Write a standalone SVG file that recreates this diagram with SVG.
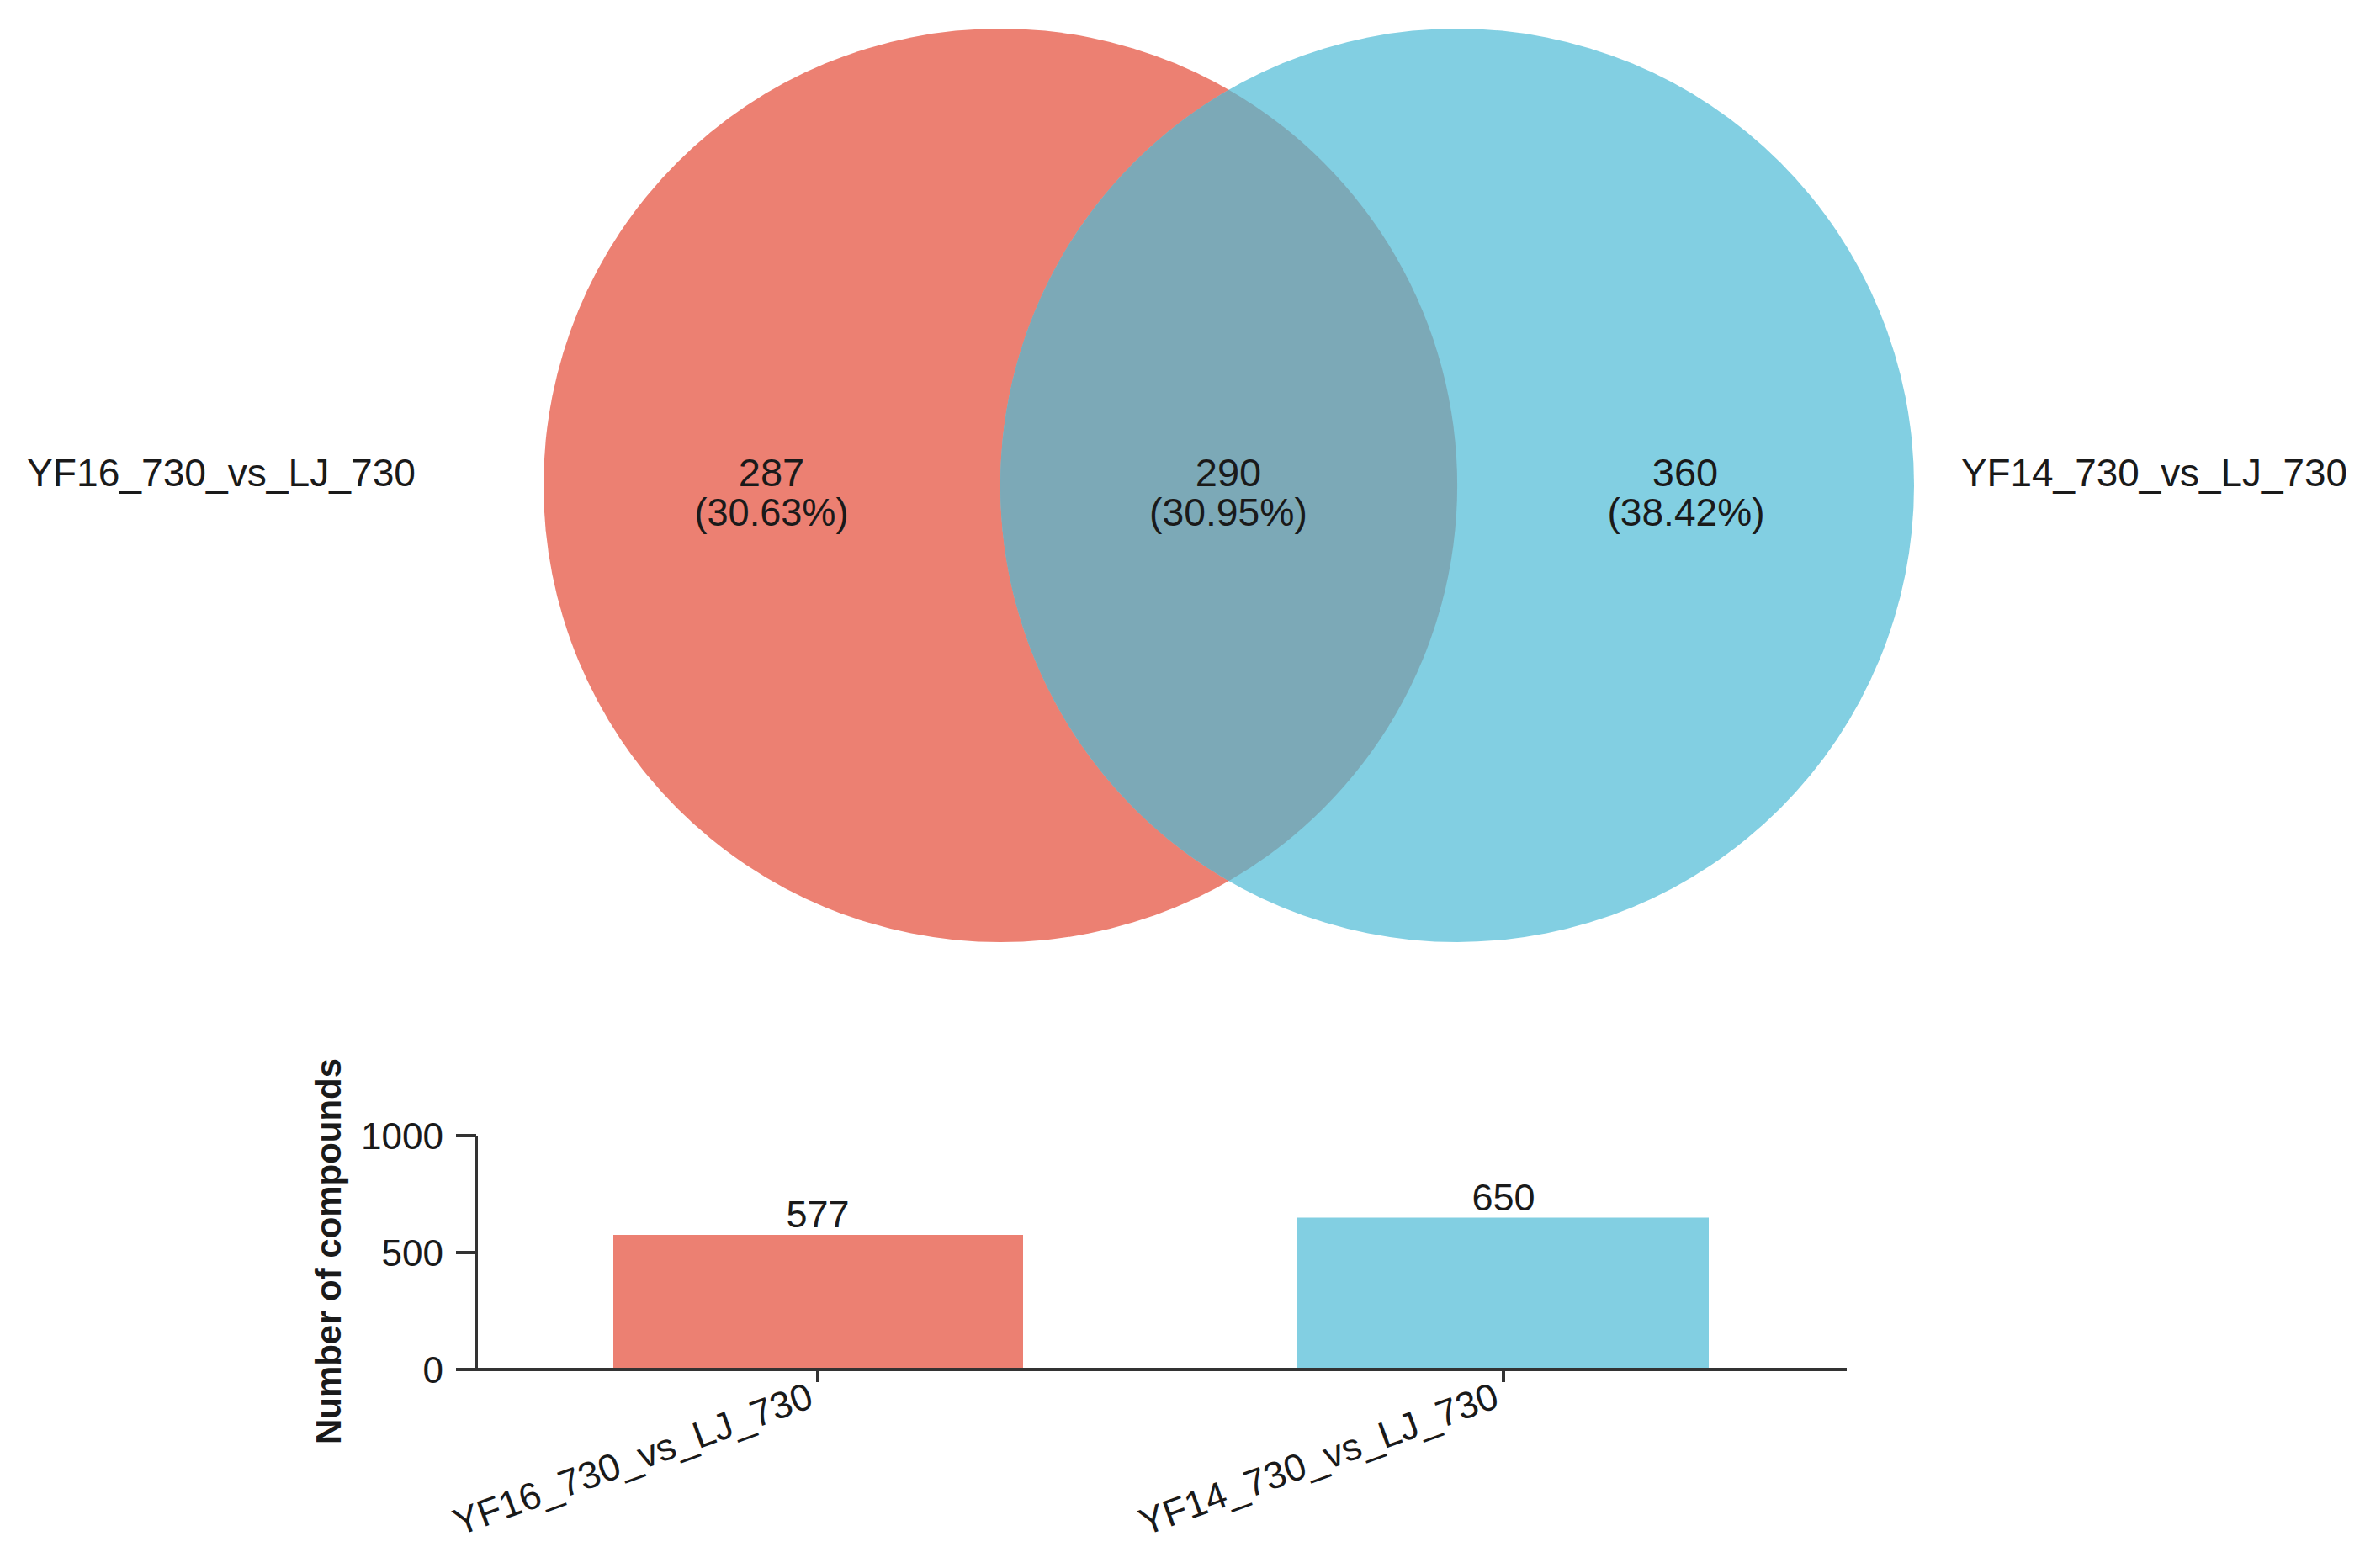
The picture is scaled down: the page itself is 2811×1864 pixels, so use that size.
<svg xmlns="http://www.w3.org/2000/svg" width="2811" height="1864" viewBox="0 0 2811 1864">
<style>
text{font-family:"Liberation Sans",Arial,sans-serif;fill:#1a1a1a}
.lbl{font-size:47px}
.num{font-size:47px;text-anchor:middle}
.tick{font-size:44px;text-anchor:end}
.ax{stroke:#333;stroke-width:4;fill:none}
.red{fill:#EC8072}
.blue{fill:#82CFE2}
</style>
<rect width="2811" height="1864" fill="#fff"/>
<g id="venn">
<g id="setA"><circle class="red" cx="1189" cy="577" r="543"/></g>
<g id="setB"><circle class="blue" cx="1732" cy="577" r="543"/></g>
<g id="overlap"><path fill="#7CA9B7" d="M1460.5 106.7 A543 543 0 0 1 1460.5 1047.3 A543 543 0 0 1 1460.5 106.7 Z"/></g>
<text class="lbl" x="32" y="578" textLength="462" lengthAdjust="spacingAndGlyphs">YF16_730_vs_LJ_730</text>
<text class="lbl" x="2331" y="578" textLength="459" lengthAdjust="spacingAndGlyphs">YF14_730_vs_LJ_730</text>
<text class="num" x="917" y="578">287</text>
<text class="num" x="917" y="625" textLength="183" lengthAdjust="spacingAndGlyphs">(30.63%)</text>
<text class="num" x="1460" y="578">290</text>
<text class="num" x="1460" y="625" textLength="188" lengthAdjust="spacingAndGlyphs">(30.95%)</text>
<text class="num" x="2003" y="578">360</text>
<text class="num" x="2004" y="625" textLength="187" lengthAdjust="spacingAndGlyphs">(38.42%)</text>
</g>
<g id="bars">
<rect id="barA" class="red" x="729" y="1468" width="487" height="160"/>
<rect id="barB" class="blue" x="1542" y="1447.5" width="489" height="180.5"/>
<text class="num" x="972" y="1459" style="font-size:45px">577</text>
<text class="num" x="1787" y="1439" style="font-size:45px">650</text>
</g>
<g id="connectors">
<path class="ax" d="M566 1350 V1628 H2195"/>
<path class="ax" d="M542 1350 H566 M542 1489 H566 M542 1628 H566"/>
<path class="ax" d="M972 1628 V1643 M1787 1628 V1643"/>
</g>
<g id="axis-labels">
<text class="tick" x="527" y="1366">1000</text>
<text class="tick" x="527" y="1505">500</text>
<text class="tick" x="527" y="1644">0</text>
<text x="0" y="0" transform="translate(405,1487.5) rotate(-90)" style="font-size:43px;font-weight:bold;text-anchor:middle" textLength="459" lengthAdjust="spacingAndGlyphs">Number of compounds</text>
<text x="0" y="0" transform="translate(969,1672) rotate(-20)" style="font-size:45px;text-anchor:end">YF16_730_vs_LJ_730</text>
<text x="0" y="0" transform="translate(1784,1672) rotate(-20)" style="font-size:45px;text-anchor:end">YF14_730_vs_LJ_730</text>
</g>
</svg>
